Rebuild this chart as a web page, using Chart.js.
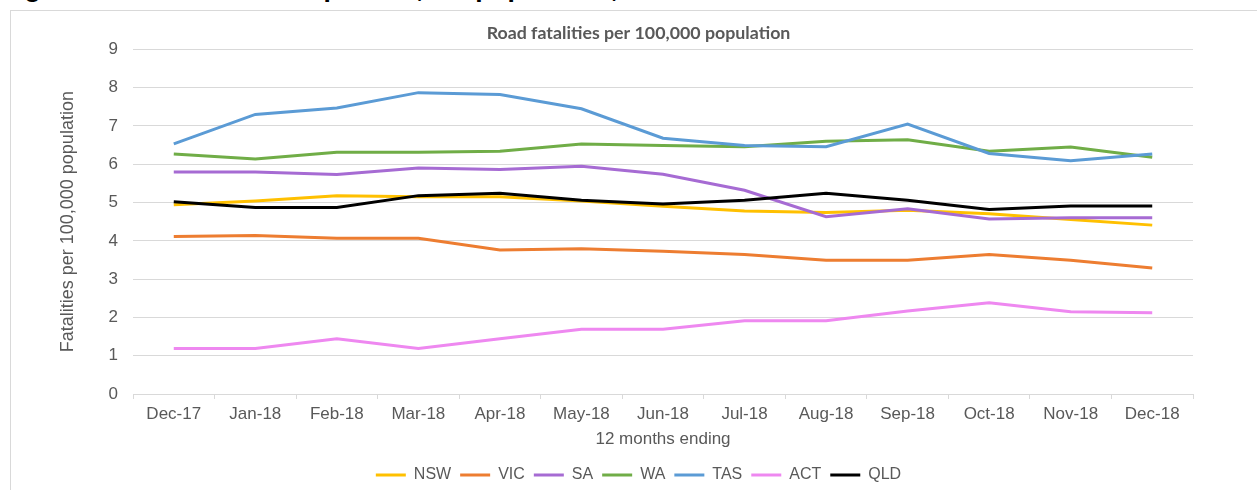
<!DOCTYPE html>
<html>
<head>
<meta charset="utf-8">
<script src="https://cdn.jsdelivr.net/npm/chart.js@4/dist/chart.umd.min.js"></script>
<style>
  html, body { margin: 0; padding: 0; background: #fff; overflow: hidden; }
  body { width: 1257px; height: 490px; position: relative; }
  #caption { position: absolute; left: 1px; top: -25px; font: bold 26.5px "Liberation Sans", Arial, sans-serif; color: #000; line-height: 26.5px; white-space: nowrap; }
  #frame { position: absolute; left: 10px; top: 10px; width: 1300px; height: 600px; border: 1px solid #d9d9d9; box-sizing: border-box; }
  #wrap { position: absolute; left: 0; top: 0; width: 1257px; height: 490px; }
</style>
</head>
<body>
<div id="caption">Figure 12: Road fatalities per 100,000 population, 2018</div>
<div id="frame"></div>
<div id="wrap"><canvas id="c" width="1257" height="490"></canvas></div>
<script>
const categories = ['Dec-17','Jan-18','Feb-18','Mar-18','Apr-18','May-18','Jun-18','Jul-18','Aug-18','Sep-18','Oct-18','Nov-18','Dec-18'];
const NSW = [4.94,5.04,5.18,5.15,5.15,5.04,4.90,4.78,4.74,4.80,4.71,4.56,4.41];
const VIC = [4.11,4.14,4.07,4.07,3.76,3.79,3.73,3.64,3.49,3.49,3.64,3.49,3.29];
const SA  = [5.80,5.80,5.73,5.90,5.86,5.95,5.74,5.32,4.63,4.84,4.57,4.60,4.60];
const WA  = [6.27,6.14,6.31,6.31,6.34,6.53,6.49,6.46,6.60,6.64,6.34,6.45,6.18];
const TAS = [6.53,7.30,7.47,7.87,7.82,7.45,6.68,6.49,6.46,7.05,6.28,6.09,6.27];
const ACT = [1.19,1.19,1.44,1.19,1.44,1.69,1.69,1.91,1.91,2.17,2.38,2.15,2.12];
const QLD = [5.02,4.87,4.87,5.18,5.24,5.06,4.96,5.06,5.24,5.06,4.82,4.91,4.91];
const yTicks = [0,1,2,3,4,5,6,7,8,9];

const seriesNames = ['NSW','VIC','SA','WA','TAS','ACT','QLD'];
const seriesData = [NSW, VIC, SA, WA, TAS, ACT, QLD];
const seriesColors = ['#FFC000','#ED7D31','#A66BD3','#70AD47','#5B9BD5','#EE88F0','#000000'];

const datasets = seriesNames.map((name, i) => ({
  label: name,
  data: seriesData[i],
  borderColor: seriesColors[i],
  backgroundColor: seriesColors[i],
  borderWidth: 3,
  pointRadius: 0,
  pointHoverRadius: 0,
  tension: 0,
  fill: false,
  yAxisID: 'y',
  order: seriesNames.length - i
}));

const grey = '#595959';
const gridGrey = '#d9d9d9';

new Chart(document.getElementById('c'), {
  type: 'line',
  data: { labels: categories, datasets },
  options: {
    responsive: false,
    animation: false,
    devicePixelRatio: 1,
    layout: { padding: { left: 52, right: 32, top: 13, bottom: -3 } },
    plugins: {
      title: {
        display: true,
        text: 'Road fatalities per 100,000 population',
        color: grey,
        font: { family: 'Lato', weight: 'bold', size: 17.8 },
        padding: { top: 10, bottom: 5 }
      },
      legend: {
        display: true,
        position: 'bottom',
        reverse: true,
        labels: {
          usePointStyle: true,
          pointStyle: 'line',
          pointStyleWidth: 30,
          boxHeight: 3,
          padding: 9,
          color: grey,
          font: { family: 'Liberation Sans', size: 16 }
        }
      },
      tooltip: { enabled: false }
    },
    scales: {
      x: {
        offset: true,
        grid: { display: true, offset: true, drawOnChartArea: false, drawTicks: true, tickLength: 5, color: gridGrey },
        border: { display: true, color: gridGrey, width: 1 },
        ticks: { color: grey, font: { family: 'Liberation Sans', size: 17 }, padding: 5, maxRotation: 0, autoSkip: false },
        title: { display: true, text: '12 months ending', color: grey, font: { family: 'Liberation Sans', size: 17 }, padding: { top: 2, bottom: 8 } },
        afterFit: (s) => { s.height = 64; }
      },
      y: {
        min: 0, max: 9,
        afterBuildTicks: (s) => { s.ticks = yTicks.map(v => ({ value: v })); },
        grid: { color: gridGrey, drawTicks: false, lineWidth: 1 },
        border: { display: false },
        ticks: { color: grey, font: { family: 'Liberation Sans', size: 17 }, padding: 15 },
        title: { display: true, text: 'Fatalities per 100,000 population', color: grey, font: { family: 'Liberation Sans', size: 18 }, padding: { top: 5, bottom: 0 } },
        afterFit: (s) => { s.width = 81; }
      },
      yRight: {
        type: 'linear',
        position: 'right',
        min: 0, max: 9,
        display: true,
        grid: { display: false, drawOnChartArea: false },
        border: { display: false },
        ticks: { display: false },
        afterFit: (s) => { s.width = 32; }
      }
    }
  }
});
</script>
</body>
</html>
